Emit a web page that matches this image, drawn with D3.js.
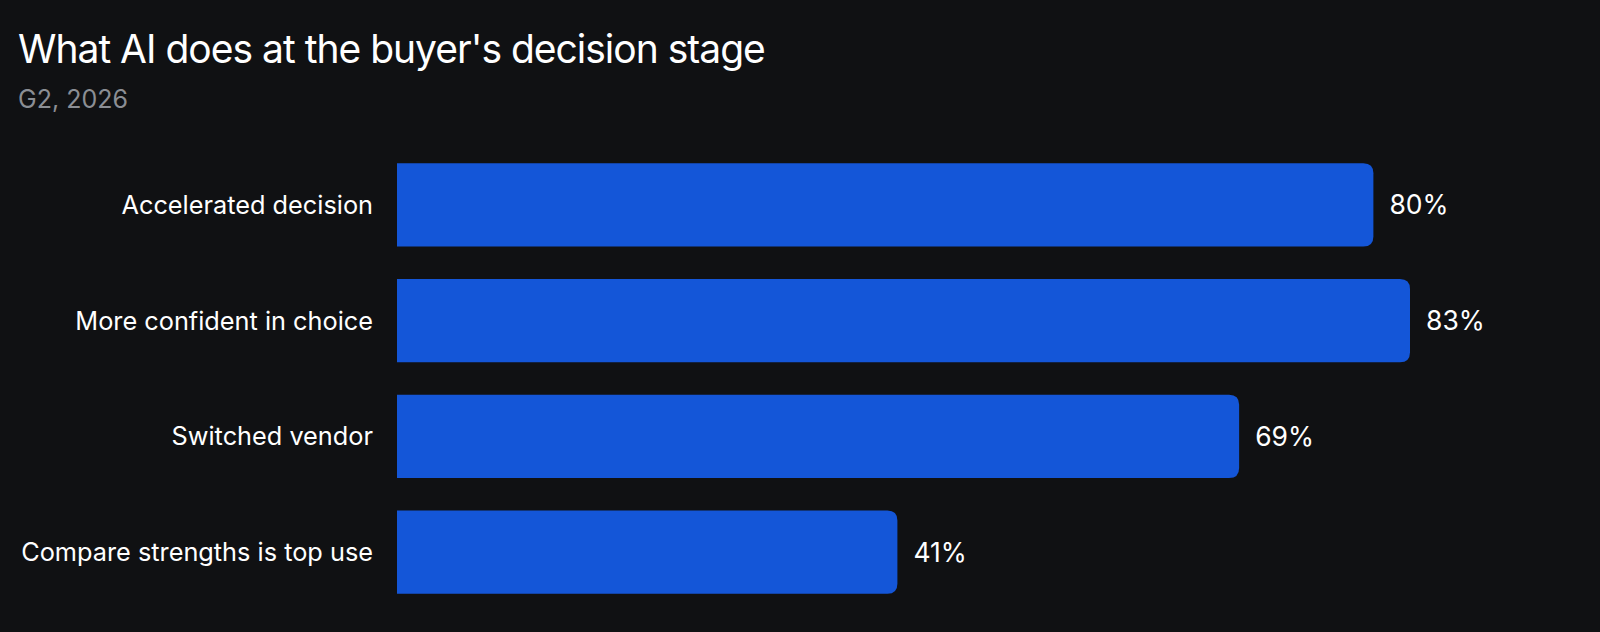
<!DOCTYPE html>
<html>
<head>
<meta charset="utf-8">
<script src="https://cdn.jsdelivr.net/npm/d3@7"></script>
<style>
  html, body { margin: 0; padding: 0; background: #101113; }
  svg { display: block; font-family: Inter, "Noto Sans", sans-serif; }
</style>
</head>
<body>
<div id="chart"></div>
<script>
const categories = ['Accelerated decision', 'More confident in choice', 'Switched vendor', 'Compare strengths is top use'];
const values = [80, 83, 69, 41];
const valueLabels = ['80%', '83%', '69%', '41%'];

const width = 1600, height = 632;
const margin = {top: 147, right: 190, bottom: 22, left: 397};

const svg = d3.select('#chart').append('svg')
    .attr('width', width)
    .attr('height', height);

svg.append('rect').attr('width', width).attr('height', height).attr('fill', '#101113');

// title + source
svg.append('text')
    .attr('x', 18).attr('y', 63)
    .attr('fill', '#ffffff')
    .style('font-size', '39px')
    .style('letter-spacing', '-1px')
    .style('font-weight', 400)
    .text("What AI does at the buyer's decision stage");

svg.append('text')
    .attr('x', 18).attr('y', 108)
    .attr('fill', '#8b8e94')
    .style('font-size', '25px')
    .text('G2, 2026');

const x = d3.scaleLinear()
    .domain([0, d3.max(values)])
    .range([margin.left, width - margin.right]);

const y = d3.scaleBand()
    .domain(categories)
    .range([margin.top, height - margin.bottom])
    .paddingInner(0.28)
    .paddingOuter(0.14);

const r = 10;
// bars: square on the left, rounded on the right
function barPath(d, i){
    let x0 = x(0), x1 = x(d), y0 = y(categories[i]), h = y.bandwidth();
    return `M${x0},${y0}H${x1 - r}Q${x1},${y0} ${x1},${y0 + r}V${y0 + h - r}Q${x1},${y0 + h} ${x1 - r},${y0 + h}H${x0}Z`;
}

svg.append('g').selectAll('path').data(values).enter()
    .append('path')
    .attr('d', barPath)
    .attr('fill', '#1456d8');

// category labels
svg.append('g').selectAll('text').data(categories).enter()
    .append('text')
    .attr('x', x(0) - 24)
    .attr('y', d => y(d) + y.bandwidth() / 2)
    .attr('dy', '0.36em')
    .attr('text-anchor', 'end')
    .attr('fill', '#ffffff')
    .style('font-size', '25.3px')
    .text(d => d);

// value labels
svg.append('g').selectAll('text').data(values).enter()
    .append('text')
    .attr('x', d => x(d) + 16)
    .attr('y', (d, i) => y(categories[i]) + y.bandwidth() / 2)
    .attr('dy', '0.36em')
    .attr('fill', '#ffffff')
    .style('font-size', '26.5px')
    .text((d, i) => valueLabels[i]);
</script>
</body>
</html>
